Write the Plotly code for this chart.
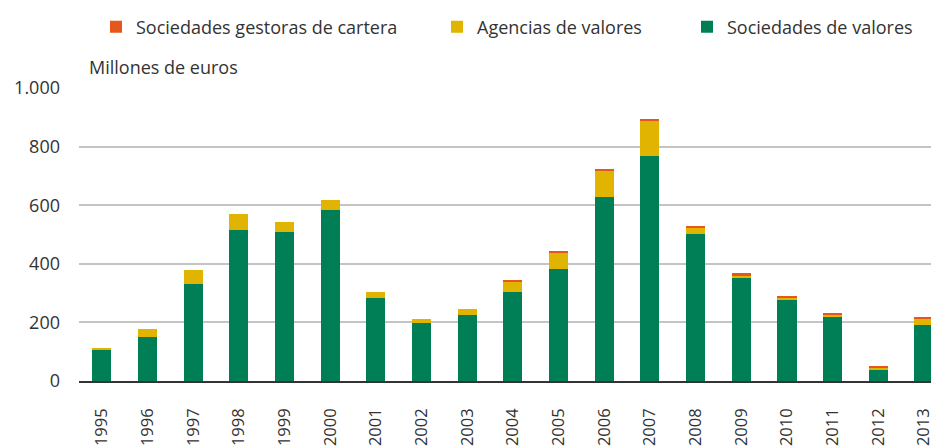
import plotly.graph_objects as go

years = [str(y) for y in range(1995, 2014)]
soc_valores = [107, 151, 332, 516, 510, 585, 284, 199, 226, 305, 383, 629, 769, 503, 353, 277, 219, 39, 192]
agencias = [7, 27, 48, 55, 34, 34, 21, 14, 21, 34, 55, 89, 119, 20, 7, 7, 7, 6, 21]
gestoras = [0, 0, 0, 0, 0, 0, 0, 0, 0, 6, 7, 7, 7, 7, 7, 7, 7, 7, 6]

names = ["Sociedades de valores", "Agencias de valores", "Sociedades gestoras de cartera"]
colors = ["#007F56", "#E0B400", "#E5571A"]
FONT = "Open Sans"
TXT = "#333333"

# page body has an 8px margin, so the figure is laid out 8px smaller
W, H, L, R, T, B = 931, 440, 71, 0, 80, 67

fig = go.Figure()
series = [soc_valores, agencias, gestoras]
legends = ["legend3", "legend2", "legend"]
for vals, nm, col, lg in zip(series, names, colors, legends):
    fig.add_trace(go.Bar(x=years, y=vals, name=nm, marker=dict(color=col, line=dict(width=0)),
                         legend=lg, showlegend=True))

def leg(px):
    return dict(orientation="h", xref="container", yref="container",
                x=px / W, y=1 - 19 / H, xanchor="left", yanchor="middle",
                font=dict(family=FONT, size=18, color=TXT),
                bgcolor="rgba(0,0,0,0)", itemwidth=30, visible=True)

PH = H - T - B
fig.update_layout(
    width=W, height=H,
    margin=dict(l=L, r=R, t=T, b=B, autoexpand=False),
    paper_bgcolor="white", plot_bgcolor="white",
    barmode="stack", bargap=0.58,
    separators=",.",
    font=dict(family=FONT, size=18, color=TXT),
    legend=leg(88),
    legend2=leg(429),
    legend3=leg(679),
    xaxis=dict(type="category", range=[-0.5, 18.33], tickangle=-90,
               showgrid=False, showline=True, linecolor="#333333", linewidth=1.5,
               ticks="", ticklabelstandoff=19, automargin=False,
               tickfont=dict(family=FONT, size=16.5, color=TXT)),
    yaxis=dict(range=[0, 1000], tickvals=[0, 200, 400, 600, 800, 1000], tickformat=",d",
               showgrid=True, gridcolor="#C4C4C4", gridwidth=1.5, zeroline=False,
               showline=False, ticks="", ticklabelstandoff=18, automargin=False,
               tickfont=dict(family=FONT, size=18, color=TXT)),
    annotations=[dict(text="Millones de euros", xref="paper", yref="paper",
                      x=(79 - L) / (W - L - R), y=1 + (T - 59) / PH,
                      xanchor="left", yanchor="middle",
                      showarrow=False, font=dict(family=FONT, size=18, color=TXT))],
)

fig.write_html("out.html")
